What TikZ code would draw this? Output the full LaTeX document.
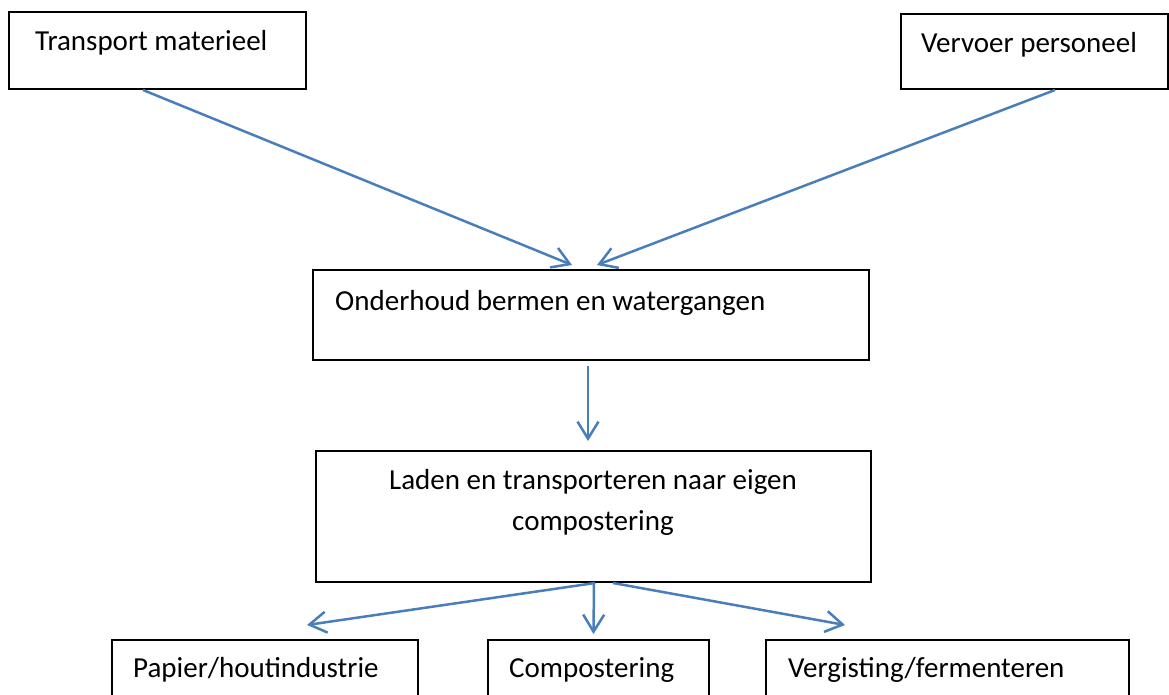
\documentclass[tikz,border=0pt]{standalone}
\usepackage{fontspec}
\setmainfont{Carlito}
\usetikzlibrary{arrows.meta}
\definecolor{ln}{RGB}{74, 126, 187}

\begin{document}
\begin{tikzpicture}[x=1pt, y=1pt,
  box/.style={rectangle, draw=black, line width=2pt, inner sep=0pt},
  txt/.style={anchor=base west, inner sep=0pt, font=\fontsize{29}{41}\selectfont},
  arr/.style={line width=2.5pt, color=ln, -{Straight Barb[length=17pt, width=21pt, line width=2.5pt]}}]
\useasboundingbox (0,0) rectangle (1169,-695);
% boxes
\node (tm) [box, minimum width=297pt, minimum height=77pt] at (157.5,-50.5) {};
\node (vp) [box, minimum width=267pt, minimum height=75pt] at (1034.5,-51.5) {};
\node (oh) [box, minimum width=556pt, minimum height=90pt] at (591,-315) {};
\node (ld) [box, minimum width=555pt, minimum height=131pt] at (593.5,-516.5) {};
\node (pp) [box, minimum width=306pt, minimum height=70pt] at (265,-675) {};
\node (cp) [box, minimum width=221pt, minimum height=70pt] at (598.5,-675) {};
\node (vg) [box, minimum width=363pt, minimum height=70pt] at (947.5,-675) {};
% texts
\node (tmtxt) [txt] at (35,-51) {Transport materieel};
\node (vptxt) [txt] at (921,-53) {Vervoer personeel};
\node (ohtxt) [txt] at (335,-310) {Onderhoud bermen en watergangen};
\node (ldtxt) [txt, anchor=base, align=center] at (593,-530) {Laden en transporteren naar eigen\\compostering};
\node (pptxt) [txt] at (133,-677) {Papier/houtindustrie};
\node (cptxt) [txt] at (509,-677) {Compostering};
\node (vgtxt) [txt] at (788,-677) {Vergisting/fermenteren};
% arrows
\draw [arr] ([xshift=-14.5pt]tm.south) -- ([xshift=-19pt, yshift=4pt]oh.north);
\draw [arr] ([xshift=20.5pt]vp.south) -- ([xshift=6pt, yshift=4pt]oh.north);
\draw [arr] ([xshift=-3pt, yshift=-5pt]oh.south) -- ([xshift=-5.5pt, yshift=9pt]ld.north);
\draw [arr] ([xshift=1.5pt]ld.south) -- ([xshift=42pt, yshift=14pt]pp.north);
\draw [arr] ([xshift=0.5pt]ld.south) -- ([xshift=-5pt, yshift=5pt]cp.north);
\draw [arr] ([xshift=19.5pt]ld.south) -- ([xshift=-102.5pt, yshift=14pt]vg.north);
\end{tikzpicture}
\end{document}
